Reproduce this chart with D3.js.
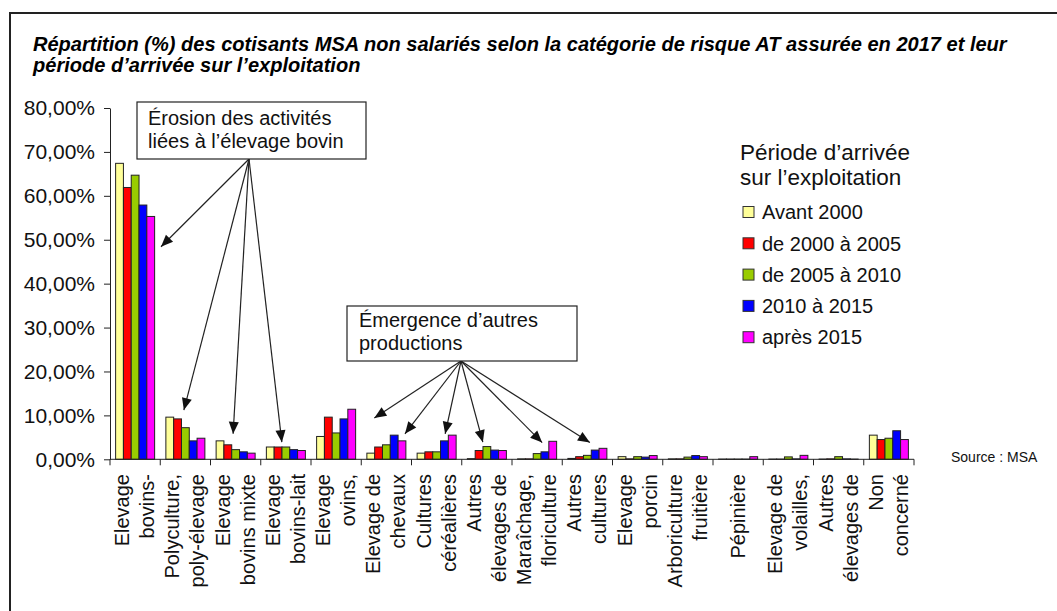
<!DOCTYPE html>
<html>
<head>
<meta charset="utf-8">
<script src="https://cdn.jsdelivr.net/npm/d3@7/dist/d3.min.js"></script>
<style>
  html, body { margin: 0; padding: 0; background: #fff; }
  svg { display: block; font-family: "Liberation Sans", Arial, sans-serif; }
</style>
</head>
<body>
<svg id="chart" width="1057" height="611"></svg>
<script>
// ---------- DATA ----------
const categories = [
  ["Elevage", "bovins-"],
  ["Polyculture,", "poly-élevage"],
  ["Elevage", "bovins mixte"],
  ["Elevage", "bovins-lait"],
  ["Elevage", "ovins,"],
  ["Elevage de", "chevaux"],
  ["Cultures", "céréalières"],
  ["Autres", "élevages de"],
  ["Maraîchage,", "floriculture"],
  ["Autres", "cultures"],
  ["Elevage", "porcin"],
  ["Arboriculture", "fruitière"],
  ["Pépinière"],
  ["Elevage de", "volailles,"],
  ["Autres", "élevages de"],
  ["Non", "concerné"]
];
const seriesNames = ["Avant 2000", "de 2000 à 2005", "de 2005 à 2010", "2010 à 2015", "après 2015"];
const seriesColors = ["#FFFF99", "#FF0000", "#99CC00", "#0000FF", "#FF00FF"];

const avant2000   = [67.4, 9.6, 4.2, 2.8, 5.2, 1.4, 1.4, 0.15, 0.1, 0.2, 0.6, 0.1, 0.05, 0.05, 0.05, 5.5];
const de2000a2005 = [61.9, 9.2, 3.3, 2.8, 9.6, 2.8, 1.7, 2.0, 0.1, 0.6, 0.1, 0.1, 0.05, 0.05, 0.1, 4.5];
const de2005a2010 = [64.7, 7.2, 2.2, 2.8, 6.0, 3.3, 1.7, 2.9, 1.3, 0.9, 0.6, 0.5, 0.05, 0.55, 0.6, 4.8];
const de2010a2015 = [57.9, 4.2, 1.7, 2.2, 9.2, 5.5, 4.2, 2.1, 1.7, 2.1, 0.5, 0.85, 0.05, 0.1, 0.1, 6.5];
const apres2015   = [55.3, 4.8, 1.4, 2.0, 11.4, 4.2, 5.5, 2.0, 4.1, 2.5, 0.85, 0.6, 0.6, 0.9, 0.05, 4.5];
const seriesValues = [avant2000, de2000a2005, de2005a2010, de2010a2015, apres2015];

const yTicks = [0, 10, 20, 30, 40, 50, 60, 70, 80];

const titleLines = [
  "Répartition (%) des cotisants MSA non salariés selon la catégorie de risque AT assurée en 2017 et leur",
  "période d’arrivée sur l’exploitation"
];
const legendTitle = ["Période d’arrivée", "sur l’exploitation"];
const sourceText = "Source : MSA";

// annotations: arrow targets as (category index, fraction of band, value %)
const erosionText = ["Érosion des activités", "liées à l’élevage bovin"];
const erosionTargets = [[0, 1.015, 48.4], [1, 0.47, 11.2], [2, 0.45, 5.8], [3, 0.42, 3.9]];
const emergenceText = ["Émergence d’autres", "productions"];
const emergenceTargets = [[5, 0.26, 9.4], [5, 0.87, 5.8], [6, 0.67, 5.8], [7, 0.42, 3.9], [8, 0.6, 3.8], [9, 0.55, 3.8]];

// ---------- LAYOUT ----------
const svg = d3.select("#chart");
const plot = { left: 110, right: 914, top: 108, bottom: 459.3 };

// frame
svg.append("rect")
  .attr("x", 10).attr("y", 13).attr("width", 1200).attr("height", 800)
  .attr("fill", "none").attr("stroke", "#222").attr("stroke-width", 2);

// title
const titleG = svg.append("g").attr("transform", "translate(33,0)");
const tText = titleG.selectAll("text").data(titleLines).join("text")
  .attr("x", 0).attr("y", (d, i) => 51 + i * 21)
  .attr("font-size", 20).attr("font-weight", "bold").attr("font-style", "italic")
  .attr("fill", "#000").text(d => d);
const natural = tText.nodes()[0].getComputedTextLength();
const sx = 974 / natural;
titleG.attr("transform", `translate(33,0) scale(${sx},1)`);

// scales
const catIdx = d3.range(categories.length);
const x0 = d3.scaleBand().domain(catIdx).range([plot.left, plot.right]).paddingInner(0).paddingOuter(0);
const x1 = d3.scaleBand().domain(d3.range(seriesNames.length)).range([0, x0.bandwidth()]).paddingInner(0).paddingOuter(0.72);
const y = d3.scaleLinear().domain([0, 80]).range([plot.bottom, plot.top]);

// bars
const groups = svg.append("g").selectAll("g").data(catIdx).join("g")
  .attr("transform", c => `translate(${x0(c)},0)`);
groups.selectAll("rect")
  .data(c => seriesValues.map((vals, s) => ({ s, v: vals[c] })))
  .join("rect")
  .attr("x", d => x1(d.s))
  .attr("width", x1.bandwidth())
  .attr("y", d => y(d.v))
  .attr("height", d => y(0) - y(d.v))
  .attr("fill", d => seriesColors[d.s])
  .attr("stroke", "#222").attr("stroke-width", 1);

// y axis
const frLocale = d3.formatLocale({ decimal: ",", thousands: " ", grouping: [3], currency: ["", "€"] });
const fmt = frLocale.format(".2f");
const yAxis = d3.axisLeft(y).tickValues(yTicks).tickSize(6).tickSizeOuter(0).tickPadding(9)
  .tickFormat(d => fmt(d) + "%");
const yg = svg.append("g").attr("transform", `translate(${plot.left},0)`).call(yAxis);
yg.selectAll("text").attr("font-size", 21).attr("fill", "#111").attr("font-family", "'Liberation Sans', Arial, sans-serif");
yg.selectAll("line, path").attr("stroke", "#222");

// x axis (line + boundary ticks)
const xg = svg.append("g");
xg.append("line").attr("x1", plot.left).attr("x2", plot.right)
  .attr("y1", y(0)).attr("y2", y(0)).attr("stroke", "#222");
const bounds = catIdx.map(c => x0(c)).concat([x0(catIdx[catIdx.length - 1]) + x0.bandwidth()]);
xg.selectAll("line.tick").data(bounds).join("line").attr("class", "tick")
  .attr("x1", d => d).attr("x2", d => d)
  .attr("y1", y(0)).attr("y2", y(0) + 6).attr("stroke", "#222");

// x labels (rotated)
const lab = svg.append("g").selectAll("g").data(catIdx).join("g");
lab.each(function (c) {
  const lines = categories[c];
  const cx = x0(c) + x0.bandwidth() / 2;
  const offs = lines.length === 1 ? [0] : [-13, 12];
  d3.select(this).selectAll("text").data(lines).join("text")
    .attr("transform", (d, i) => `translate(${cx + offs[i]},474) rotate(-90)`)
    .attr("text-anchor", "end")
    .attr("dy", "0.35em")
    .attr("font-size", 20).attr("fill", "#111")
    .text(d => d);
});

// legend
const lg = svg.append("g");
lg.selectAll("text.lt").data(legendTitle).join("text").attr("class", "lt")
  .attr("x", 740).attr("y", (d, i) => 160 + i * 25)
  .attr("font-size", 22.5).attr("fill", "#111").text(d => d);
const items = lg.selectAll("g.item").data(seriesNames).join("g").attr("class", "item")
  .attr("transform", (d, i) => `translate(743,${212 + i * 31.3})`);
items.append("rect").attr("x", 0).attr("y", -5.5).attr("width", 11).attr("height", 11)
  .attr("fill", (d, i) => seriesColors[i]).attr("stroke", "#333").attr("stroke-width", 1);
items.append("text").attr("x", 19).attr("dy", "0.36em").attr("font-size", 20).attr("fill", "#111").text(d => d);

// source
svg.append("text").attr("x", 951).attr("y", 462).attr("font-size", 14).attr("fill", "#111").text(sourceText);

// arrow marker
svg.append("defs").append("marker")
  .attr("id", "arrow").attr("markerUnits", "userSpaceOnUse")
  .attr("viewBox", "0 -5 10 10").attr("refX", 10).attr("refY", 0)
  .attr("markerWidth", 14).attr("markerHeight", 12).attr("orient", "auto")
  .append("path").attr("d", "M0,-4.2L10,0L0,4.2Z").attr("fill", "#111");

function annotation(box, textLines, origin, targets) {
  const g = svg.append("g");
  g.selectAll("line").data(targets).join("line")
    .attr("x1", origin[0]).attr("y1", origin[1])
    .attr("x2", t => x0(t[0]) + t[1] * x0.bandwidth())
    .attr("y2", t => y(t[2]))
    .attr("stroke", "#222").attr("stroke-width", 1.2)
    .attr("marker-end", "url(#arrow)");
  g.append("rect").attr("x", box.x).attr("y", box.y).attr("width", box.w).attr("height", box.h)
    .attr("fill", "#fff").attr("stroke", "#222").attr("stroke-width", 1.2);
  g.selectAll("text").data(textLines).join("text")
    .attr("x", box.x + box.tx).attr("y", (d, i) => box.y + box.ty + i * 23)
    .attr("font-size", 20).attr("fill", "#111").text(d => d);
}
annotation({ x: 137, y: 102, w: 229, h: 57, tx: 11, ty: 23 }, erosionText, [249, 159], erosionTargets);
annotation({ x: 347, y: 306, w: 230, h: 55, tx: 12, ty: 21 }, emergenceText, [461, 361], emergenceTargets);
</script>
</body>
</html>
